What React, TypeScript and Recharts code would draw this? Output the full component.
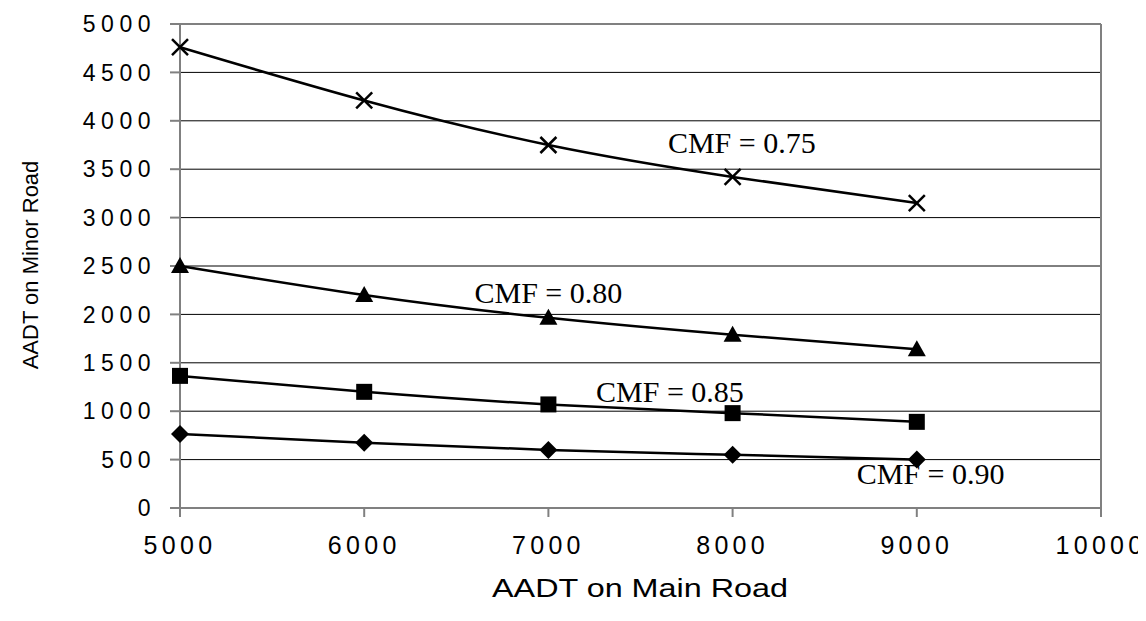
import React from 'react';
import { LineChart, Line, XAxis, YAxis, CartesianGrid, ReferenceLine, ReferenceDot, Label } from 'recharts';

const mainRoad = [5000, 6000, 7000, 8000, 9000];
const cmf075 = [4760, 4210, 3750, 3420, 3150];
const cmf080 = [2500, 2200, 1965, 1790, 1640];
const cmf085 = [1365, 1200, 1070, 980, 890];
const cmf090 = [765, 675, 600, 550, 500];

const xTicks = [5000, 6000, 7000, 8000, 9000, 10000];
const yTicks = [0, 500, 1000, 1500, 2000, 2500, 3000, 3500, 4000, 4500, 5000];

const annotations = [
  { text: 'CMF = 0.75', x: 8050, y: 3775 },
  { text: 'CMF = 0.80', x: 7000, y: 2225 },
  { text: 'CMF = 0.85', x: 7660, y: 1200 },
  { text: 'CMF = 0.90', x: 9075, y: 355 },
];

const data = mainRoad.map((m, i) => ({
  main: m,
  c75: cmf075[i],
  c80: cmf080[i],
  c85: cmf085[i],
  c90: cmf090[i],
}));

const CrossDot = (p: any) => {
  const { cx, cy } = p;
  const s = 8;
  return (
    <g key={`x-${p.index}`}>
      <line x1={cx - s} y1={cy - s} x2={cx + s} y2={cy + s} stroke="#000" strokeWidth={2.5} />
      <line x1={cx - s} y1={cy + s} x2={cx + s} y2={cy - s} stroke="#000" strokeWidth={2.5} />
    </g>
  );
};
const TriDot = (p: any) => {
  const { cx, cy } = p;
  return (
    <polygon
      key={`t-${p.index}`}
      points={`${cx},${cy - 9} ${cx - 9},${cy + 7} ${cx + 9},${cy + 7}`}
      fill="#000"
    />
  );
};
const SqDot = (p: any) => {
  const { cx, cy } = p;
  return <rect key={`s-${p.index}`} x={cx - 8} y={cy - 8} width={16} height={16} fill="#000" />;
};
const DiaDot = (p: any) => {
  const { cx, cy } = p;
  return (
    <polygon
      key={`d-${p.index}`}
      points={`${cx},${cy - 9} ${cx + 9},${cy} ${cx},${cy + 9} ${cx - 9},${cy}`}
      fill="#000"
    />
  );
};

const annLabel = (text: string) => (p: any) => {
  const vb = p.viewBox || {};
  const cx = (vb.x || 0) + (vb.width || 0) / 2;
  const cy = (vb.y || 0) + (vb.height || 0) / 2;
  return (
    <text x={cx} y={cy + 10} textAnchor="middle" fontFamily="'Liberation Serif', 'Times New Roman', serif" fontSize={30} fill="#000">
      {text}
    </text>
  );
};

export default function App() {
  return (
    <div style={{ width: 1138, height: 605 }}>
      <LineChart width={1138} height={605} data={data} margin={{ top: 16, right: 45, left: 0, bottom: 0 }}>
        <CartesianGrid vertical={false} stroke="#000" strokeWidth={1} />
        <XAxis
          dataKey="main"
          type="number"
          domain={[5000, 10000]}
          ticks={xTicks}
          height={105}
          stroke="#808080"
          strokeWidth={2}
          tickSize={9}
          tickMargin={19}
          tick={{ fill: '#000', fontSize: 25, fontFamily: "'Liberation Sans', Arial, sans-serif", letterSpacing: 4.3 }}
        >
          <Label
            content={() => (
              <text x={632} y={580} textAnchor="middle" dominantBaseline="central" fontFamily="'Liberation Sans', Arial, sans-serif" fontSize={25} textLength={296} lengthAdjust="spacingAndGlyphs" fill="#000">
                AADT on Main Road
              </text>
            )}
          />
        </XAxis>
        <YAxis
          type="number"
          domain={[0, 5000]}
          ticks={yTicks}
          width={172}
          stroke="#808080"
          strokeWidth={2}
          tickSize={10}
          tickMargin={14}
          tick={{ fill: '#000', fontSize: 23, fontFamily: "'Liberation Sans', Arial, sans-serif", letterSpacing: 5.5 }}
        >
          <Label
            content={() => (
              <text x={22} y={257} transform="rotate(-90 22 257)" textAnchor="middle" dominantBaseline="central" fontFamily="'Liberation Sans', Arial, sans-serif" fontSize={22} fill="#000">
                AADT on Minor Road
              </text>
            )}
          />
        </YAxis>
        <ReferenceLine y={5000} stroke="#808080" strokeWidth={2} />
        <ReferenceLine x={10000} stroke="#808080" strokeWidth={2} />
        <Line type="natural" dataKey="c75" stroke="#000" strokeWidth={2.5} dot={CrossDot} isAnimationActive={false} />
        <Line type="natural" dataKey="c80" stroke="#000" strokeWidth={2.5} dot={TriDot} isAnimationActive={false} />
        <Line type="natural" dataKey="c85" stroke="#000" strokeWidth={2.5} dot={SqDot} isAnimationActive={false} />
        <Line type="natural" dataKey="c90" stroke="#000" strokeWidth={2.5} dot={DiaDot} isAnimationActive={false} />
        {annotations.map((a) => (
          <ReferenceDot key={a.text} x={a.x} y={a.y} r={0} fill="none" stroke="none" label={{ content: annLabel(a.text) } as any} />
        ))}
      </LineChart>
    </div>
  );
}
